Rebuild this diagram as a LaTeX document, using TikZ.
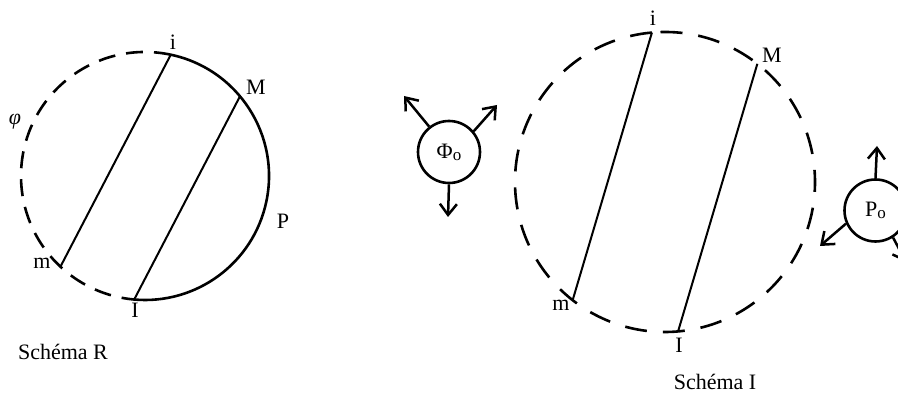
\documentclass[tikz,border=0pt]{standalone}
\usepackage{fontspec}
\setmainfont{Liberation Serif}
\usetikzlibrary{arrows.meta}
\begin{document}
\begin{tikzpicture}[x=1pt,y=1pt,
  lab/.style={font=\fontsize{22}{25}\selectfont, inner sep=0pt},
  captext/.style={font=\fontsize{22}{26}\selectfont, inner sep=0pt},
  chord/.style={line width=2pt},
  arcline/.style={line width=2.6pt},
  dashL/.style={line width=2.6pt, dash pattern=on 17pt off 11pt},
  dashR/.style={line width=2.6pt, dash pattern=on 22pt off 16pt},
  force/.style={circle, draw, line width=2.6pt, minimum size=62pt, inner sep=0pt, font=\fontsize{22}{24}\selectfont},
  arr/.style={line width=2.5pt, -{Straight Barb[length=11pt,width=17pt,line width=2.5pt]}}]
\useasboundingbox (0,0) rectangle (898,395);

% ---------- Schema R ----------
\coordinate (Lc) at (145,219);
\path (Lc) ++(78:124) coordinate (Li);
\path (Lc) ++(40:124) coordinate (LM);
\path (Lc) ++(227:124) coordinate (Lm);
\path (Lc) ++(265:124) coordinate (LI);
\draw[arcline] (Li) arc[start angle=78, end angle=-95, radius=124];
\draw[dashL] (Li) arc[start angle=78, end angle=265, radius=124];
\draw[chord] (Li) -- (Lm);
\draw[chord] (LM) -- (LI);
\node[lab] (lbLi) at (173,353) {i};
\node[lab] (lbLM) at (256,308) {M};
\node[lab] (lbLP) at (283,174) {P};
\node[lab] (lbLm) at (42,132) {m};
\node[lab] (lbLI) at (135,85) {I};
\node[lab] (lbphi) at (15,273) {\textit{φ}};
\node[captext] (capR) at (63,43) {Schéma R};

% ---------- force circles ----------
\node[force] (phi) at (449,243) {Φ\raisebox{-0.2ex}{\fontsize{17}{18}\selectfont o}};
\coordinate (phiA) at (404,299);
\coordinate (phiB) at (497,290);
\coordinate (phiC) at (448,178);
\draw[arr] (phi.128) -- (phiA);
\draw[arr] (phi.40) -- (phiB);
\draw[arr] (phi.south) -- (phiC);

\node[force] (po) at (875.5,184.5) {P\raisebox{-0.2ex}{\fontsize{17}{18}\selectfont o}};
\coordinate (poA) at (877,249);
\coordinate (poB) at (820,149);
\coordinate (poC) at (906,133);
\draw[arr] (po.north) -- (poA);
\draw[arr] (po.204) -- (poB);
\draw[arr] (po.-57) -- (poC);

% ---------- Schema I ----------
\coordinate (Rc) at (665,213);
\path (Rc) ++(95:150) coordinate (Ri);
\path (Rc) ++(52:150) coordinate (RM);
\path (Rc) ++(232:150) coordinate (Rm);
\path (Rc) ++(275:150) coordinate (RI);
\draw[dashR] (Ri) arc[start angle=95, end angle=455, radius=150];
\draw[chord] (Ri) -- (Rm);
\draw[chord] (RM) -- (RI);
\node[lab] (lbRi) at (653,377) {i};
\node[lab] (lbRM) at (772,340) {M};
\node[lab] (lbRm) at (561,90) {m};
\node[lab] (lbRI) at (679,50) {I};
\node[captext] (capI) at (715,13) {Schéma I};
\end{tikzpicture}
\end{document}
